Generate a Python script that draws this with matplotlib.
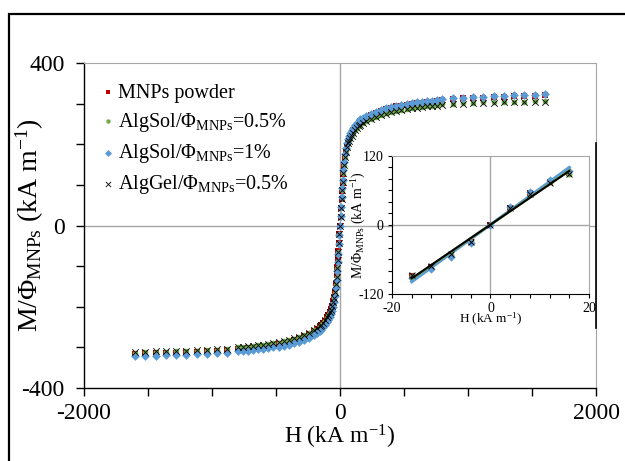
import numpy as np
import matplotlib
matplotlib.use("Agg")
import matplotlib.pyplot as plt
from matplotlib.lines import Line2D
from matplotlib.patches import Rectangle
from matplotlib.ticker import MultipleLocator, FixedLocator

plt.rcParams['font.family'] = ['Liberation Serif', 'DejaVu Serif']
plt.rcParams['mathtext.fontset'] = 'custom'
plt.rcParams['mathtext.rm'] = 'Liberation Serif'
plt.rcParams['mathtext.it'] = 'Liberation Serif:italic'
plt.rcParams['axes.unicode_minus'] = False

# ---------------- data (main plot) ----------------
H = [-1600, -1520, -1440, -1360, -1280, -1200, -1120, -1040, -960, -880,
     -800, -760, -720, -680, -640, -600, -560, -520, -480, -440, -400, -360,
     -320, -280, -240, -200, -180, -160, -145, -130, -115, -100, -90, -80,
     -72, -64, -56, -48, -40, -32, -26, -20, -16, -12, -8, -4,
     0,
     4, 8, 12, 16, 20, 26, 32, 40, 48, 56, 64, 72, 80, 90, 100, 115, 130,
     145, 160, 180, 200, 240, 280, 320, 360, 400, 440, 480, 520, 560, 600,
     640, 680, 720, 760, 800, 880, 960, 1040, 1120, 1200, 1280, 1360, 1440,
     1520, 1600]

M_powder = [-316, -315, -315, -314, -313, -312, -311, -310, -309, -307,
            -304, -303, -302, -301, -300, -298, -296, -294, -292, -289, -286, -282,
            -278, -273, -267, -260, -255, -250, -246, -240, -234, -226, -220, -213,
            -206, -197, -187, -175, -160, -141, -122, -101, -83, -63, -42, -21,
            0,
            22, 44, 66, 86, 105, 128, 148, 168, 184, 196, 206, 214, 221, 228, 234, 241, 247,
            252, 256, 261, 265, 272, 277, 282, 286, 290, 293, 295, 297, 299, 301,
            302, 303, 305, 306, 309, 312, 313, 314, 315, 316, 317, 318, 318,
            319, 320]

M_sol05 = [-313, -312, -311, -311, -310, -309, -308, -307, -306, -304,
           -300, -299, -298, -297, -295, -294, -292, -290, -288, -285, -282, -279,
           -275, -270, -265, -258, -254, -249, -245, -240, -234, -227, -221, -214,
           -208, -200, -190, -179, -165, -146, -127, -105, -87, -66, -44, -22,
           0,
           22, 45, 67, 88, 107, 130, 150, 169, 183, 194, 203, 210, 216, 222, 228, 235, 240,
           245, 249, 253, 257, 263, 268, 272, 276, 280, 283, 285, 287, 289, 291,
           292, 294, 295, 296, 298, 300, 301, 302, 303, 303, 304, 305, 305,
           306, 306]

M_sol1 = [-321, -321, -320, -319, -319, -318, -317, -316, -315, -314,
          -310, -309, -308, -307, -305, -304, -302, -300, -298, -296, -293, -290,
          -286, -281, -276, -269, -265, -260, -256, -251, -245, -238, -232, -225,
          -218, -210, -200, -188, -173, -154, -134, -111, -91, -69, -46, -23,
          0,
          23, 46, 69, 92, 112, 136, 156, 176, 191, 203, 213, 221, 227, 234, 240, 247, 252,
          257, 261, 265, 269, 275, 280, 284, 288, 292, 295, 297, 299, 301, 303,
          305, 306, 307, 309, 311, 314, 315, 316, 317, 318, 319, 320, 321,
          322, 323]

M_gel05 = [-312, -311, -310, -310, -309, -308, -307, -306, -305, -303,
           -299, -298, -297, -296, -294, -293, -291, -289, -287, -284, -281, -278,
           -274, -269, -264, -257, -253, -248, -244, -239, -233, -226, -220, -213,
           -207, -199, -189, -178, -164, -145, -126, -104, -86, -65, -44, -22,
           0,
           22, 44, 66, 87, 106, 129, 149, 168, 182, 193, 202, 209, 215, 221, 227, 234, 239,
           244, 248, 252, 256, 262, 267, 271, 275, 279, 282, 284, 286, 288, 290,
           291, 293, 294, 295, 297, 299, 300, 301, 302, 302, 303, 304, 304,
           305, 305]

# ---------------- data (inset) ----------------
H_in = [-16, -12, -8, -4, 0, 4, 8, 12, 16]
Min_powder = [-89, -73, -53, -30, 0, 30, 55, 75, 91]
Min_sol05 = [-88, -72, -52, -29, 0, 29, 54, 74, 89]
Min_sol1 = [-92, -76, -55, -31, 0, 31, 57, 78, 94]
Min_gel05 = [-87, -71, -51, -29, 0, 29, 54, 73, 88]

labels = ['MNPs powder',
          r'AlgSol/Φ$_{\mathrm{MNPs}}$=0.5%',
          r'AlgSol/Φ$_{\mathrm{MNPs}}$=1%',
          r'AlgGel/Φ$_{\mathrm{MNPs}}$=0.5%']

RED = '#C00000'
GREEN = '#70AD47'
BLUE = '#5B9BD5'
BLACK = '#000000'
GRAY = '#A6A6A6'

fig = plt.figure(figsize=(6.25, 4.61), dpi=100)

# figure border (cropped on right/bottom)
fig.add_artist(Rectangle((9 / 625, -0.05), 1.2, 1 - 14 / 461 + 0.05,
                         transform=fig.transFigure, fill=False,
                         edgecolor='black', linewidth=1.6))

ax = fig.add_axes([84 / 625, 1 - 388 / 461, 512 / 625, 325 / 461])
ax.set_xlim(-2000, 2000)
ax.set_ylim(-400, 400)
ax.axhline(0, color=GRAY, lw=1.0, zorder=1)
ax.axvline(0, color=GRAY, lw=1.0, zorder=1)

ax.scatter(H, M_powder, marker='s', s=20, color=RED, linewidths=0, zorder=3, label=labels[0])
ax.scatter(H, M_sol05, marker='o', s=16, color=GREEN, linewidths=0, zorder=3, label=labels[1])
ax.scatter(H, M_sol1, marker='D', s=20, color=BLUE, linewidths=0, zorder=3, label=labels[2])
ax.scatter(H, M_gel05, marker='x', s=22, color=BLACK, linewidths=0.6, zorder=4, label=labels[3])

for s in ['top', 'right']:
    ax.spines[s].set_color(GRAY)
for s in ['left', 'bottom']:
    ax.spines[s].set_color('black')
    ax.spines[s].set_linewidth(1.0)

ax.xaxis.set_major_locator(FixedLocator([-2000, 0, 2000]))
ax.xaxis.set_minor_locator(MultipleLocator(500))
ax.yaxis.set_major_locator(FixedLocator([-400, 0, 400]))
ax.yaxis.set_minor_locator(MultipleLocator(100))
ax.tick_params(axis='both', which='both', direction='out', length=6, width=1.0,
               top=False, right=False, labelsize=17)
ax.tick_params(axis='y', which='major', pad=8)
ax.tick_params(axis='x', which='major', pad=5)
ax.set_xlabel('H (kA m$^{-1}$)', fontsize=17, labelpad=-1)
ax.set_ylabel(r'M/Φ$_{\mathrm{MNPs}}$ (kA m$^{-1}$)', fontsize=20)
ax.yaxis.set_label_coords(-0.074, 0.5)

leg = ax.legend(loc='upper left', bbox_to_anchor=(0.0, 0.98), frameon=False,
                fontsize=14.5, handletextpad=0.0, handlelength=1.0,
                labelspacing=0.4, borderaxespad=0.3, markerscale=0.8)

# black segment on the right (inset chart-object border)
fig.add_artist(Line2D([596 / 625, 596 / 625], [1 - 143 / 461, 1 - 328 / 461],
                      transform=fig.transFigure, color='black', lw=1.2))

# ---------------- inset ----------------
ai = fig.add_axes([392 / 625, 1 - 294 / 461, 197 / 625, 138 / 461])
ai.set_facecolor('white')
ai.set_xlim(-20, 20)
ai.set_ylim(-120, 120)
ai.axhline(0, color=GRAY, lw=1.0, zorder=1)
ai.axvline(0, color=GRAY, lw=1.0, zorder=1)

series_in = [(Min_powder, RED, 's'), (Min_sol05, GREEN, 'o'),
             (Min_sol1, BLUE, 'D'), (Min_gel05, BLACK, 'x')]
xfit = np.array([min(H_in), max(H_in)])
for vals, col, mk in series_in:
    if mk == 'x':
        ai.scatter(H_in, vals, marker='x', s=18, color=col, linewidths=0.7, zorder=4)
    else:
        ai.scatter(H_in, vals, marker=mk, s=18, color=col, linewidths=0, zorder=3)
for vals, col, lw in [(Min_powder, RED, 1.5), (Min_sol1, BLUE, 2.2),
                      (Min_sol05, GREEN, 1.8), (Min_gel05, BLACK, 1.5)]:
    p = np.polyfit(H_in, vals, 1)
    ai.plot(xfit, np.polyval(p, xfit), color=col, lw=lw, zorder=3)

for s in ['top', 'right']:
    ai.spines[s].set_color(GRAY)
for s in ['left', 'bottom']:
    ai.spines[s].set_color('black')
ai.xaxis.set_major_locator(FixedLocator([-20, 0, 20]))
ai.xaxis.set_minor_locator(MultipleLocator(4))
ai.yaxis.set_major_locator(FixedLocator([-120, 0, 120]))
ai.yaxis.set_minor_locator(MultipleLocator(20))
ai.tick_params(axis='both', which='both', direction='out', length=3, width=0.8,
               labelsize=10, pad=3)
ai.set_xlabel('H (kA m$^{-1}$)', fontsize=9.5, labelpad=-3)
ai.set_ylabel(r'M/Φ$_{\mathrm{MNPs}}$ (kA m$^{-1}$)', fontsize=10)
ai.yaxis.set_label_coords(-0.12, 0.5)

fig.savefig('out.png', dpi=100)
